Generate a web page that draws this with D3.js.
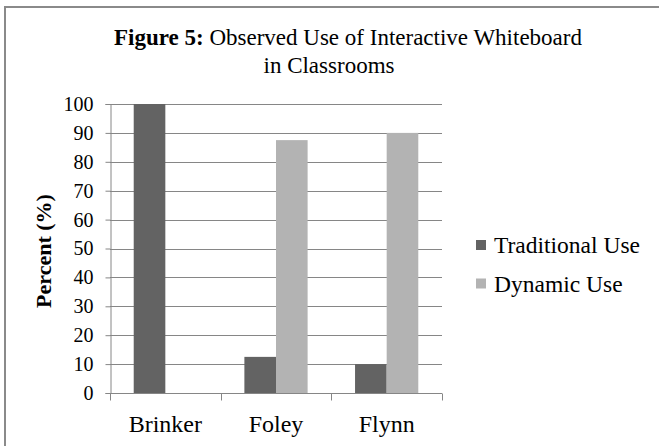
<!DOCTYPE html>
<html>
<head>
<meta charset="utf-8">
<script src="https://cdn.jsdelivr.net/npm/d3@7"></script>
<style>
  body { margin: 0; background: #fff; }
  svg text { font-family: "Liberation Serif", "Times New Roman", serif; fill: #000; }
</style>
</head>
<body>
<svg id="chart" width="659" height="446"></svg>
<script>
const categories = ['Brinker', 'Foley', 'Flynn'];
const seriesNames = ['Traditional Use', 'Dynamic Use'];
const traditionalUse = [100, 12.5, 10];
const dynamicUse = [0, 87.5, 90];
const yTicks = [0, 10, 20, 30, 40, 50, 60, 70, 80, 90, 100];
const colors = ['#636363', '#b3b3b3'];

const svg = d3.select('#chart');
const gridColor = '#868686';

// frame (only the top and left edges show in the picture)
svg.append('line').attr('x1', 5).attr('x2', 659).attr('y1', 7).attr('y2', 7)
    .attr('stroke', '#8a8a8a').attr('stroke-width', 2);
svg.append('line').attr('x1', 5).attr('x2', 5).attr('y1', 6).attr('y2', 446)
    .attr('stroke', '#8a8a8a').attr('stroke-width', 2);

// title
const t1 = svg.append('text').attr('x', 348).attr('y', 45)
    .attr('text-anchor', 'middle').style('font-size', '23px');
t1.append('tspan').style('font-weight', 'bold').text('Figure 5:');
t1.append('tspan').text(' Observed Use of Interactive Whiteboard');
svg.append('text').attr('x', 329).attr('y', 73)
    .attr('text-anchor', 'middle').style('font-size', '23px')
    .text('in Classrooms');

const plot = { left: 110, right: 442, top: 104, bottom: 393 };

const y = d3.scaleLinear().domain([0, 100]).range([plot.bottom, plot.top]);
const x0 = d3.scaleBand().domain(categories).range([plot.left, plot.right]);
const groupWidth = x0.bandwidth() * 2 / 3.5;
const x1 = d3.scaleBand().domain(seriesNames)
    .range([(x0.bandwidth() - groupWidth) / 2, (x0.bandwidth() + groupWidth) / 2]);

// gridlines
svg.append('g')
    .selectAll('line')
    .data(yTicks.filter(d => d > 0))
    .enter()
    .append('line')
    .attr('x1', plot.left).attr('x2', plot.right)
    .attr('y1', d => Math.round(y(d)) + 0.5).attr('y2', d => Math.round(y(d)) + 0.5)
    .attr('stroke', gridColor);

// bars
const rows = categories.map((c, i) => ({ category: c, values: [traditionalUse[i], dynamicUse[i]] }));
svg.append('g')
    .selectAll('g')
    .data(rows)
    .enter()
    .append('g')
    .attr('transform', d => `translate(${x0(d.category)},0)`)
    .selectAll('rect')
    .data(d => d.values.map((v, i) => ({ name: seriesNames[i], value: v, i })))
    .enter()
    .append('rect')
    .attr('x', d => x1(d.name))
    .attr('width', x1.bandwidth())
    .attr('y', d => y(d.value))
    .attr('height', d => y(0) - y(d.value))
    .attr('fill', d => colors[d.i]);

// y axis
const yAxis = svg.append('g')
    .attr('transform', `translate(${plot.left + 0.5},0)`)
    .call(d3.axisLeft(y).tickValues(yTicks).tickSize(5).tickPadding(12).tickFormat(d3.format('d')));
yAxis.select('.domain').attr('stroke', gridColor);
yAxis.selectAll('.tick line').attr('stroke', gridColor);
yAxis.selectAll('.tick text').style('font-size', '20px').attr('fill', '#000');

// x axis
const xAxis = svg.append('g')
    .attr('transform', `translate(0,${plot.bottom + 0.5})`);
xAxis.append('line').attr('x1', plot.left).attr('x2', plot.right)
    .attr('stroke', gridColor);
xAxis.selectAll('.sep')
    .data(categories.concat(['end']))
    .enter()
    .append('line')
    .attr('class', 'sep')
    .attr('x1', (d, i) => Math.round(plot.left + i * x0.step()) + 0.5)
    .attr('x2', (d, i) => Math.round(plot.left + i * x0.step()) + 0.5)
    .attr('y1', 0).attr('y2', 7)
    .attr('stroke', gridColor);
xAxis.selectAll('.cat')
    .data(categories)
    .enter()
    .append('text')
    .attr('class', 'cat')
    .attr('x', d => x0(d) + x0.bandwidth() / 2)
    .attr('y', 38)
    .attr('text-anchor', 'middle')
    .style('font-size', '24px')
    .text(d => d);

// y axis title
svg.append('text')
    .attr('transform', 'translate(51,251) rotate(-90)')
    .attr('text-anchor', 'middle')
    .style('font-size', '22px')
    .style('font-weight', 'bold')
    .text('Percent (%)');

// legend
const legend = svg.append('g').attr('transform', 'translate(476,0)');
const items = legend.selectAll('g')
    .data(seriesNames)
    .enter()
    .append('g')
    .attr('transform', (d, i) => `translate(0,${253 + i * 38.5})`);
items.append('rect')
    .attr('x', 0).attr('y', -13).attr('width', 10).attr('height', 10)
    .attr('fill', (d, i) => colors[i]);
items.append('text')
    .attr('x', 18).attr('y', 0)
    .style('font-size', '23.5px')
    .text(d => d);
</script>
</body>
</html>
